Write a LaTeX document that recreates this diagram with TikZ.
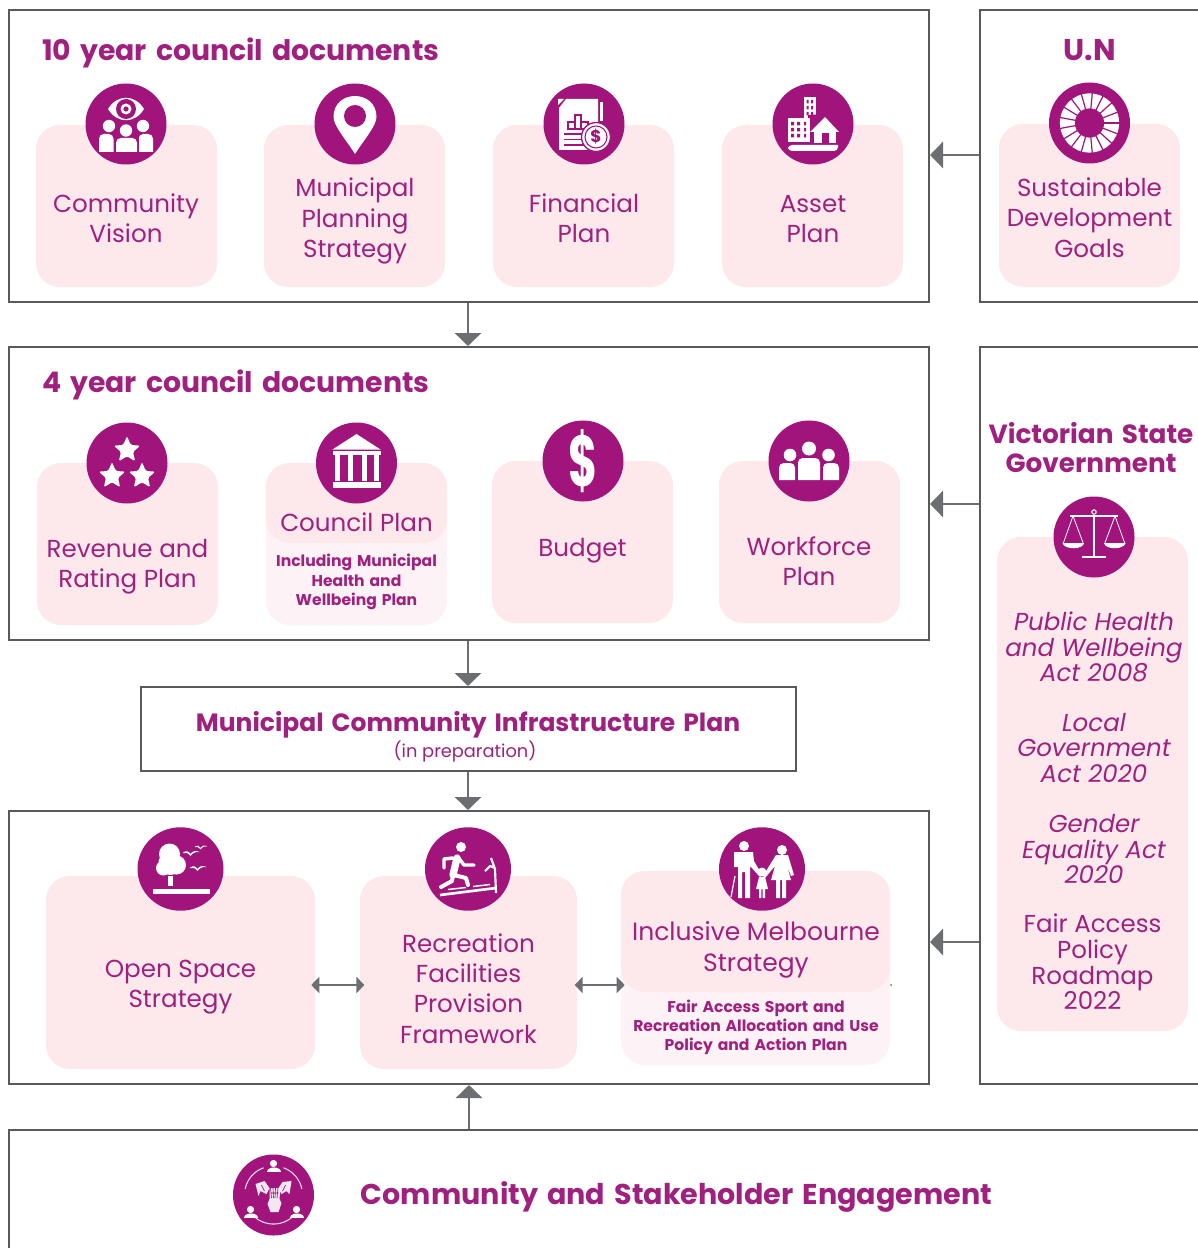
\documentclass[tikz,border=0pt]{standalone}
\usepackage{fontspec}
\setmainfont{Poppins}[BoldFeatures={WordSpace=1.5}]
\usetikzlibrary{arrows.meta,fit,calc,shapes.geometric}
\definecolor{plum}{HTML}{A0147B}
\definecolor{plumtext}{HTML}{A0207F}
\definecolor{cardpink}{HTML}{FDE9EC}
\definecolor{cardlight}{HTML}{FDF3F6}
\definecolor{framegray}{HTML}{58595B}
\definecolor{arrowgray}{HTML}{6D6E71}
\newcommand{\pxfont}[2]{\fontsize{\dimexpr#1pt*3/4\relax}{\dimexpr#2pt*3/4\relax}\selectfont}
\newcommand{\pbody}[4]{\fill[white] (#1,#4) [rounded corners=3.5pt] -- (#1,#3) -- (#2,#3) [sharp corners] -- (#2,#4) -- cycle;}
\tikzset{
  framebox/.style={draw=framegray,line width=1.5pt,fill=white,inner sep=0pt,rectangle},
  card/.style={fill=cardpink,rounded corners=18pt,inner sep=0pt,rectangle},
  cardpale/.style={fill=cardlight,rounded corners=18pt,inner sep=0pt,rectangle},
  iconc/.style={circle,fill=plum,inner sep=0pt,minimum size=60.75pt},
  iconcb/.style={ellipse,fill=plum,inner sep=0pt,minimum width=64.5pt,minimum height=62.6pt},
  conn/.style={draw=arrowgray,line width=2.2pt,-{Triangle[length=9.75pt,width=19.5pt]}},
  dconn/.style={draw=arrowgray,line width=1.9pt,{Triangle[length=6pt,width=12pt]}-{Triangle[length=6pt,width=12pt]}},
  lab/.style={text=plumtext,align=center,inner sep=0pt,font=\pxfont{24.6}{30.4}},
  vlab/.style={text=plumtext,align=center,inner sep=0pt,font=\pxfont{24.5}{25.6}},
  sublab/.style={text=plumtext,align=center,inner sep=0pt,font=\bfseries\pxfont{15.6}{19.3}},
  headlab/.style={text=plumtext,inner sep=0pt,font=\bfseries\pxfont{28.3}{29}},
  pics/eyepeople/.style={code={
    \fill[white] (-18,-15) .. controls (-9,-30) and (9,-30) .. (18,-15) .. controls (9,0) and (-9,0) .. cycle;
    \fill[plum] (0,-15) circle[radius=10];
    \fill[white] (0,-15) circle[radius=5.5];
    \fill[plum] (0,-15) circle[radius=2.6];
    \fill[white] (-17,2) circle[radius=6.2] (17,2) circle[radius=6.2];
    \pbody{-27}{-12.5}{10}{28}\pbody{12.5}{27}{10}{28}
    \fill[plum] (-12.5,9) rectangle (12.5,28);
    \fill[plum] (0,6.5) circle[radius=7.5];
    \fill[white] (0,6.5) circle[radius=6.2];
    \pbody{-10}{11}{14}{28}
  }},
  pics/pin/.style={code={
    \fill[white] (0,30) .. controls (-8,17) and (-21.5,2) .. (-21.5,-7) .. controls (-21.5,-35) and (21.5,-35) .. (21.5,-7) .. controls (21.5,2) and (8,17) .. cycle;
    \fill[plum] (0,-8) circle[radius=11];
  }},
  pics/finance/.style={code={
    \fill[white] (-18,-25) -- (14,-25) -- (14,26) -- (-25,26) -- (-25,-16) -- cycle;
    \fill[plum] (-20,-25.5) -- (-26,-25.5) -- (-26,-17) -- cycle;
    \fill[white] (16,-22) rectangle (18.5,-3);
    \fill[white] (-26,-25) -- (-20,-25) -- (-26,-19) -- cycle;
    \draw[plum,line width=1pt,fill=white] (-16,-2) rectangle (-9,5) (-9,-9) rectangle (-3,5) (-3,-2) rectangle (4,5);
    \draw[plum,line width=1.4pt] (-20,10) -- (0,10) (-20,15.5) -- (0,15.5) (-20,21) -- (0,21);
    \fill[white,draw=plum,line width=1pt] (12,13) circle[radius=14.5];
    \draw[plum,line width=.8pt] (12,13) circle[radius=11];
    \node[text=plum,inner sep=0pt,font=\bfseries\pxfont{17}{18}] (dollarsmall) at (12,13) {\$};
  }},
  pics/asset/.style={code={
    \fill[white] (-9.5,-27) rectangle (3,5);
    \foreach \yy in {-24,-18,-12,-6,0} {\fill[plum] (-6.5,\yy) rectangle ++(2,3.5) (-2,\yy) rectangle ++(2,3.5);}
    \fill[plum] (-5,-9) -- (13,-10) -- (28,8) -- (28,22) -- (-5,22) -- cycle;
    \fill[white] (12,-7) -- (26,8) -- (-3,8) -- cycle;
    \fill[white] (1,5) rectangle (23,19);
    \fill[plum] (8.5,9) rectangle (15.5,19);
    \fill[white] (-25,-6) rectangle (-3,18);
    \foreach \yy in {-2,4,10} {\fill[plum] (-22,\yy) rectangle ++(3,3.5) (-16,\yy) rectangle ++(3,3.5) (-9,\yy) rectangle ++(2,3.5);}
    \fill[white] (-25,21) -- (25,21) [rounded corners=3pt] -- (25,27) -- (-25,27) -- cycle;
  }},
  pics/wheel/.style={code={
    \fill[white] (0,0) circle[radius=29.6];
    \foreach \a in {0,21.18,...,360} {\draw[plum,line width=.9pt] (0,0) -- (\a:31);}
    \fill[plum] (0,0) circle[radius=14.6];
  }},
  pics/star/.style={code={
    \fill[white,rounded corners=1.2pt] (-90:14) -- (-54:6.3) -- (-18:14) -- (18:6.3) -- (54:14) -- (90:6.3) -- (126:14) -- (162:6.3) -- (198:14) -- (234:6.3) -- cycle;
  }},
  pics/stars/.style={code={
    \pic at (0,-13) {star};
    \pic at (-15,13) {star};
    \pic at (15,13) {star};
  }},
  pics/temple/.style={code={
    \fill[white] (0,-29) -- (24,-13.5) -- (-24,-13.5) -- cycle;
    \fill[white] (-24,-12) rectangle (24,-8);
    \foreach \cx in {-22,-9,5,17} {\fill[white] (\cx,-8) rectangle ++(5.7,26);}
    \fill[white] (-24,19) rectangle (24,25);
  }},
  pics/crowd/.style={code={
    \fill[white] (0,-12.5) circle[radius=7] (-19,-6) circle[radius=6.3] (19.5,-6) circle[radius=6.3];
    \pbody{-30}{-14}{2}{19}\pbody{14}{30}{2}{19}\pbody{-11}{11}{-3}{19}
  }},
  pics/scales/.style={code={
    \draw[white,line width=1.2pt] (-24,-21) -- (24,-21) (0,-22) -- (0,20);
    \draw[white,line width=2pt] (-12,20) -- (12,20);
    \draw[white,line width=.8pt] (0,-25) circle[radius=2.2];
    \draw[white,line width=.6pt] (-10.5,7) -- (-21,-21) -- (-31,7) (10.5,7) -- (21,-21) -- (31,7);
    \fill[white] (-31.5,6) -- (-10,6) .. controls (-11,13) and (-30,13) .. cycle;
    \fill[white] (10,6) -- (31.5,6) .. controls (30,13) and (11,13) .. cycle;
  }},
  pics/bird/.style={code={
    \fill[white] (-8,0) .. controls (-4,-3) and (-2,-2) .. (0,1) .. controls (2,-2) and (5,-3) .. (9,-1) .. controls (5,-1.5) and (2,0) .. (0,3) .. controls (-2,0) and (-5,-1) .. cycle;
  }},
  pics/park/.style={code={
    \fill[white] (-11,-15) circle[radius=10.5] (-17,-8) circle[radius=5] (-17,-1) circle[radius=7.5] (-4,-4) circle[radius=9.5] (-10,-4) circle[radius=10];
    \fill[white] (-13,7) rectangle (-8,17);
    \fill[white] (-28,20) rectangle (29,25);
    \pic at (10,-16) {bird};
    \pic[scale=.75] at (20,-22) {bird};
    \pic at (17,-1) {bird};
  }},
  pics/runner/.style={code={
    \fill[white] (-7,-22) circle[radius=5];
    \draw[white,line width=5.5pt,line cap=round] (-11,-11) -- (-15,6);
    \draw[white,line width=2.6pt,line cap=round,line join=round] (-10,-12) -- (-4,-4) -- (6,-4);
    \draw[white,line width=2.6pt,line cap=round,line join=round] (-15,-11) -- (-24,-10) -- (-24,-1);
    \draw[white,line width=3pt,line cap=round,line join=round] (-15,6) -- (-16,12) -- (-27,18);
    \draw[white,line width=3pt,line cap=round,line join=round] (-14,6) -- (-2,9) -- (0,16);
    \draw[white,line width=2pt] (-28,26) -- (28,19);
    \draw[white,line width=1.1pt] (-20,20.5) -- (-2,18.5) (5,17.5) -- (22,15.5);
    \draw[white,line width=1.6pt,line join=round] (28,24) -- (27,0) -- (23,-11) (27,-1) -- (22,-3) -- (17,2);
  }},
  pics/family/.style={code={
    \fill[white] (-18,-23) circle[radius=5] (20,-19) circle[radius=5] (0,3) circle[radius=4.5];
    \fill[white] (-28,-2) -- (-28,-17) -- (-9,-17) -- (-8,-8) -- (0,6) -- (-2,8) -- (-12,-3) -- (-12,29) -- (-17,29) -- (-17,3) -- (-20,3) -- (-20,29) -- (-24,29) -- (-24,-2) -- cycle;
    \fill[white] (14,-14) -- (26,-14) -- (32,6) -- (29,7) -- (25,-3) -- (29,11) -- (24,11) -- (24,29) -- (20,29) -- (20,11) -- (18,11) -- (18,29) -- (14,29) -- (14,11) -- (9,11) -- (13,-3) -- (3,9) -- (1,7) -- cycle;
    \fill[white] (-3,8) -- (3,8) -- (6,20) -- (3,20) -- (3,29) -- (.7,29) -- (.7,20) -- (-.7,20) -- (-.7,29) -- (-3,29) -- (-3,20) -- (-6,20) -- cycle;
    \draw[white,line width=.9pt] (-27,7) -- (-31,28);
  }},
  pics/minip/.style={code={
    \fill[white] (0,-3.5) circle[radius=3.6];
    \fill[white] (-7,5) .. controls (-7,-1) and (7,-1) .. (7,5) -- cycle;
  }},
  pics/engage/.style={code={
    \foreach \t in {-70:-12, 48:132, 192:250} {
      \draw[white,line width=.8pt,opacity=.85] plot[domain=\t,samples=18,smooth] ({29*cos(\x)},{29*sin(\x)});
    }
    \pic at (0,-28) {minip};
    \pic at (-23,18) {minip};
    \pic at (23,18) {minip};
    \fill[white,opacity=.9] (-4,4) -- (-4,-7) -- (7,-7) -- (6,4) -- (8,8) -- (5,17) -- (-3,17) -- (-6,9) -- cycle;
    \fill[white,opacity=.9] (-18,-11) -- (-9,-14) -- (-4,-7) -- (-7,-1) -- (-13,-4) -- (-15,1) -- cycle;
    \fill[white,opacity=.9] (18,-14) -- (9,-13) -- (5,-7) -- (8,-1) -- (13,-4) -- (16,-1) -- cycle;
    \draw[plum,line width=.5pt] (-3,-7) -- (-2,3) (-.5,-7) -- (0,3) (2,-7) -- (1.5,3) (4.5,-7) -- (3.5,3) (-3,-2) -- (5,-2);
    \draw[plum,line width=.5pt] (-12,-10) -- (-9,-4) (12,-10) -- (9,-4);
  }}
}
\begin{document}
\begin{tikzpicture}[x=0.75pt,y=-0.75pt]
\useasboundingbox (0,0) rectangle (1197,1248);
% frames
\node[framebox,fit={(9,10)(929,302)}] (f1) {};
\node[framebox,fit={(980,10)(1215,302)}] (un) {};
\node[framebox,fit={(9,347)(929,640)}] (f2) {};
\node[framebox,fit={(980,347)(1215,1084)}] (vic) {};
\node[framebox,fit={(141,687)(796,771)}] (mcip) {};
\node[framebox,fit={(9,811)(929,1084)}] (f3) {};
\node[framebox,fit={(9,1130)(1215,1262)}] (eng) {};
% connectors
\coordinate (ax) at (468,0);
\coordinate (ay1) at (950,155);
\coordinate (ay2) at (950,504);
\coordinate (ay3) at (950,942);
\coordinate (dy) at (470,985);
\draw[conn] (ax |- f1.south) -- (ax |- f2.north);
\draw[conn] (ax |- f2.south) -- (ax |- mcip.north);
\draw[conn] (ax |- mcip.south) -- (ax |- f3.north);
\draw[conn] (eng.north -| f3.south) -- (f3.south);
\draw[conn] (ay1 -| un.west) -- (ay1 -| f1.east);
\draw[conn] (ay2 -| vic.west) -- (ay2 -| f2.east);
\draw[conn] (ay3 -| vic.west) -- (ay3 -| f3.east);
% titles
\node[headlab,anchor=base west] (t1) at (42,61) {10 year council documents};
\node[headlab,anchor=base west] (t2) at (42,392) {4 year council documents};
\node[text=plumtext,inner sep=0pt,font=\bfseries\pxfont{30}{30}] (t3) at (1089.5,50.5) {U.N};
\node[text=plumtext,inner sep=0pt,align=center,font=\bfseries\pxfont{26.3}{29}] (t4) at (1091,447.5) {Victorian State\\Government};
\node[text=plumtext,align=center,inner sep=0pt,font=\bfseries\pxfont{25}{30}] (t5) at (468,725) {Municipal Community Infrastructure Plan};
\node[text=plumtext,align=center,inner sep=0pt,font=\pxfont{17.8}{20}] (t6) at (465,751) {(in preparation)};
\node[text=plumtext,inner sep=0pt,font=\bfseries\pxfont{28.6}{32}] (t7) at (676.5,1197) {Community and Stakeholder Engagement};
% cards row 1
\node[card,fit={(36,125)(217,287)}] (c1) {};
\node[card,fit={(264,125)(445,287)}] (c2) {};
\node[card,fit={(493,125)(674,287)}] (c3) {};
\node[card,fit={(722,125)(903,287)}] (c4) {};
\node[card,fit={(999,124)(1180,287)}] (c5) {};
% cards row 2
\node[card,fit={(37,463)(218,625)}] (d1) {};
\node[cardpale,fit={(266,463)(447,625)}] (d2) {};
\node[card,fit={(266,463)(447,543)}] (d2u) {};
\node[card,fit={(492,461)(673,623)}] (d3) {};
\node[card,fit={(719,461)(900,623)}] (d4) {};
\node[card,fit={(997,537)(1188,1031)}] (v1) {};
% cards row 3
\node[card,fit={(46,876)(315,1069)}] (e1) {};
\node[card,fit={(360,876)(577,1069)}] (e2) {};
\node[cardpale,fit={(621,871)(890,1065)}] (e3) {};
\node[card,fit={(621,871)(890,992)}] (e3u) {};
\draw[dconn,shorten <=-3pt,shorten >=-3.5pt] (dy -| e1.east) -- (dy -| e2.west);
\draw[dconn,shorten <=-2pt,shorten >=-3pt] (dy -| e2.east) -- (dy -| e3.west);
\fill[arrowgray] (891,985) circle[radius=1];
% icons
\node[iconc] (i1) at (126,124) {}; \pic at (i1) {eyepeople};
\node[iconc] (i2) at (355,124) {}; \pic at (i2) {pin};
\node[iconc] (i3) at (584,124) {}; \pic at (i3) {finance};
\node[iconc] (i4) at (813,124) {}; \pic at (i4) {asset};
\node[iconc] (i5) at (1089.5,123) {}; \pic at (i5) {wheel};
\node[iconc] (j1) at (127,463) {}; \pic at (j1) {stars};
\node[iconc] (j2) at (356.5,463) {}; \pic at (j2) {temple};
\node[iconc] (j3) at (583,461) {};
\node[transform shape,xscale=.62,text=white,inner sep=0pt,font=\bfseries\pxfont{72}{74}] (j3d) at (583,461) {\$};
\node[iconc] (j4) at (809,461) {}; \pic at (j4) {crowd};
\node[iconc] (j5) at (1094,537) {}; \pic at (j5) {scales};
\node[iconcb] (k1) at (180.5,869) {}; \pic at (k1) {park};
\node[iconcb] (k2) at (468,869) {}; \pic at (k2) {runner};
\node[iconcb] (k3) at (762,869) {}; \pic at (k3) {family};
\node[iconc] (k4) at (273.5,1195) {}; \pic at (k4) {engage};
% labels
\node[lab] (l1) at (126,218) {Community\\Vision};
\node[lab] (l2) at (355,221) {Municipal\\Planning\\Strategy};
\node[lab] (l3) at (584,218) {Financial\\Plan};
\node[lab] (l4) at (813,219) {Asset\\Plan};
\node[lab] (l5) at (1089.5,217.5) {Sustainable\\Development\\Goals};
\node[lab] (m1) at (127.5,567) {Revenue and\\Rating Plan};
\node[lab] (m2) at (356.5,522) {Council Plan};
\node[sublab] (m2s) at (356.5,582) {Including Municipal\\Health and\\Wellbeing Plan};
\node[lab] (m3) at (582.5,551) {Budget};
\node[lab] (m4) at (809,561) {Workforce\\Plan};
\node[vlab] (v2) at (1094,647) {\itshape Public Health\\\itshape and Wellbeing\\\itshape Act 2008};
\node[vlab] (v3) at (1094,748) {\itshape Local\\\itshape Government\\\itshape Act 2020};
\node[vlab] (v4) at (1094,849) {\itshape Gender\\\itshape Equality Act\\\itshape 2020};
\node[vlab] (v5) at (1092.5,962) {Fair Access\\Policy\\Roadmap\\2022};
\node[lab] (n1) at (180.5,987) {Open Space\\Strategy};
\node[lab] (n2) at (468.5,988.5) {Recreation\\Facilities\\Provision\\Framework};
\node[lab,font=\pxfont{25}{30.4}] (n3) at (756,950) {Inclusive Melbourne\\Strategy};
\node[sublab] (n3s) at (756,1027.5) {Fair Access Sport and\\Recreation Allocation and Use\\Policy and Action Plan};
\end{tikzpicture}
\end{document}
